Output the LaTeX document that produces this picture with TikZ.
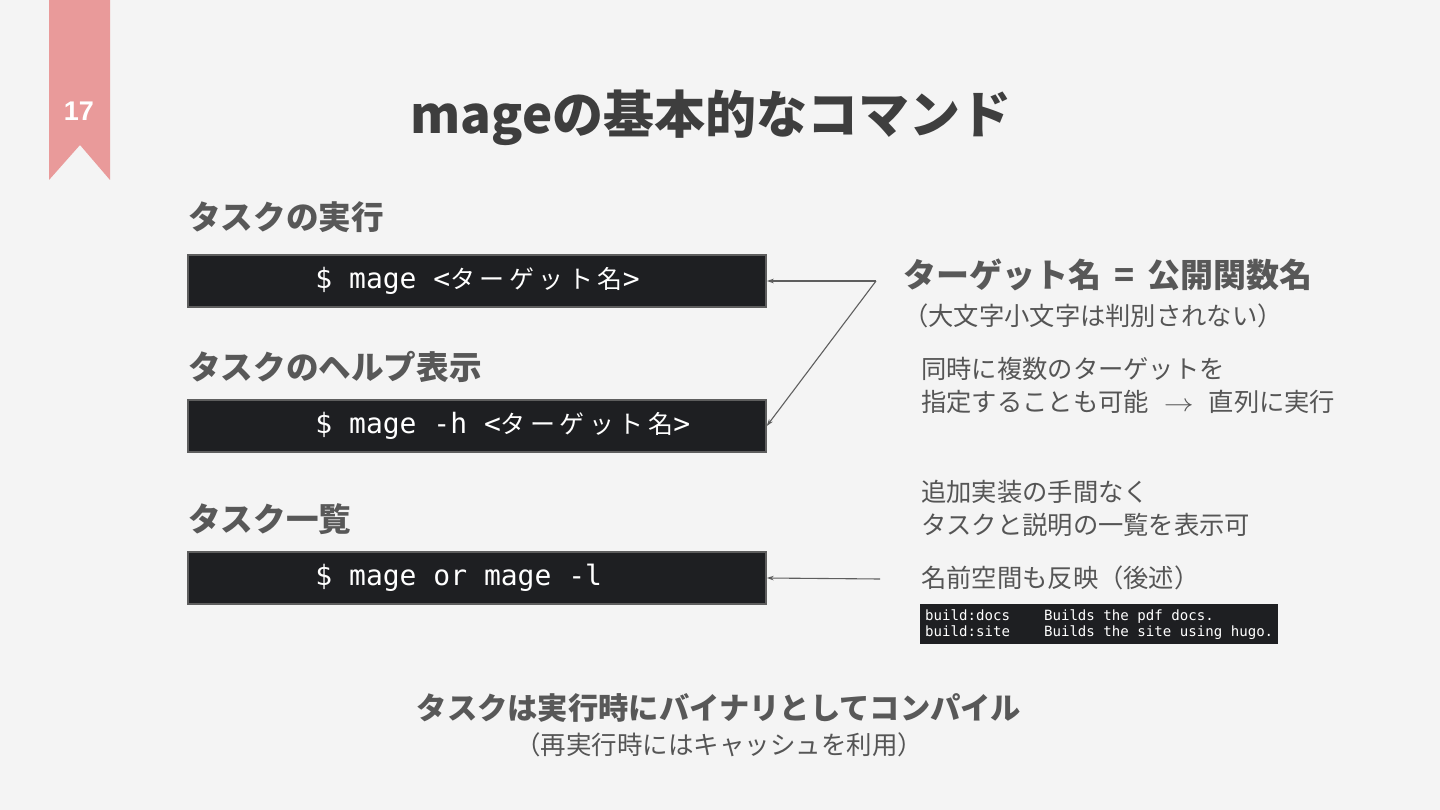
\documentclass[tikz,border=0pt]{standalone}
\usepackage{fontspec}
\setmainfont{Noto Sans CJK JP}
\setmonofont{DejaVu Sans Mono}
\newfontfamily\cjkmono[LetterSpace=18]{Noto Sans CJK JP}
\newfontfamily\numfont{Liberation Sans}
\usetikzlibrary{arrows.meta,positioning}
\definecolor{slidebg}{HTML}{F4F4F4}
\definecolor{ribbon}{HTML}{E99A9A}
\definecolor{titlegray}{HTML}{3E3E3E}
\definecolor{headgray}{HTML}{585858}
\definecolor{notegray}{HTML}{555555}
\definecolor{termbg}{HTML}{1E1F22}
\definecolor{boxedge}{HTML}{5E5E5E}
\tikzset{
  title/.style   = {font=\bfseries\fontsize{51}{60}\selectfont, text=titlegray, inner sep=0},
  heading/.style = {anchor=west, font=\bfseries\fontsize{32.6}{38}\selectfont, text=headgray, inner sep=0},
  cmdbox/.style  = {draw=boxedge, fill=termbg, line width=1.5pt, minimum width=578pt,
                    minimum height=52pt, inner sep=0},
  cmdtext/.style = {anchor=west, text=white, font=\ttfamily\fontsize{28}{32}\selectfont, inner sep=0},
  keynote/.style = {anchor=west, font=\bfseries\fontsize{33}{40}\selectfont, text=headgray, inner sep=0},
  note/.style    = {anchor=west, align=left, font=\fontsize{25.3}{33}\selectfont, text=notegray, inner sep=0},
  pointer/.style = {-{Stealth[length=7pt,width=4.5pt]}, draw=boxedge, line width=1.1pt}
}
\newcommand{\tgtname}{<{\cjkmono\fontsize{25}{30}\selectfont ターゲット名}>}

\begin{document}
\begin{tikzpicture}[x=1pt, y=-1pt]

  % slide background and page ribbon
  \fill[slidebg] (0,0) rectangle (1440,810);
  \fill[ribbon] (49,0) -- (110,0) -- (110,180) -- (80,145) -- (49,180) -- cycle;
  \node[text=white, font=\numfont\bfseries\fontsize{27}{32}\selectfont, inner sep=0] (page) at (79,111) {17};

  \node[title] (ttl) at (711,118) {mageの基本的なコマンド};

  % the three commands
  \node[heading] (h1) at (188,217) {タスクの実行};
  \node[cmdbox] (c1) at (477,281) {};
  \node[cmdtext] (t1) at ([xshift=128pt]c1.west) {\$ mage \tgtname};

  \node[heading] (h2) at (188,367) {タスクのヘルプ表示};
  \node[cmdbox] (c2) at (477,426) {};
  \node[cmdtext] (t2) at ([xshift=128pt]c2.west) {\$ mage -h \tgtname};

  \node[heading] (h3) at (188,519) {タスク一覧};
  \node[cmdbox] (c3) at (477,578) {};
  \node[cmdtext] (t3) at ([xshift=128pt]c3.west) {\$ mage or mage -l};

  % notes on the right
  \node[keynote] (k1) at (903,275) {ターゲット名 \,=\, 公開関数名};
  \node[note] (k2) at (903,316) {（大文字小文字は判別されない）};
  \node[note] (n1) at (921,385)
       {同時に複数のターゲットを\\指定することも可能\hspace{15pt}\scalebox{1.2}[1]{$\rightarrow$}\hspace{15pt}直列に実行};
  \node[note] (n2) at (921,508) {追加実装の手間なく\\タスクと説明の一覧を表示可};
  \node[note] (n3) at (921,578) {名前空間も反映（後述）};
  \node[fill=termbg, text=white, anchor=north west, align=left, minimum width=358pt,
        minimum height=40pt, inner xsep=5pt, inner ysep=0,
        font=\ttfamily\fontsize{14.1}{16}\selectfont] (term) at (920,604)
       {build:docs~~~~Builds the pdf docs.\\build:site~~~~Builds the site using hugo.};

  % pointers back to the commands
  \coordinate (tgt) at (876,281);
  \coordinate (lst) at (880,579);
  \draw[pointer] (tgt) -- (c1.east);
  \draw[pointer] (tgt) -- (c2.east);
  \draw[pointer] (lst) -- (c3.east);

  % closing remark
  \node[font=\bfseries\fontsize{30.3}{36}\selectfont, text=headgray, inner sep=0] (sum) at (719,708)
       {タスクは実行時にバイナリとしてコンパイル};
  \node[font=\fontsize{25.5}{30}\selectfont, text=notegray, inner sep=0] (sum2) at (719,745)
       {（再実行時にはキャッシュを利用）};

\end{tikzpicture}
\end{document}
